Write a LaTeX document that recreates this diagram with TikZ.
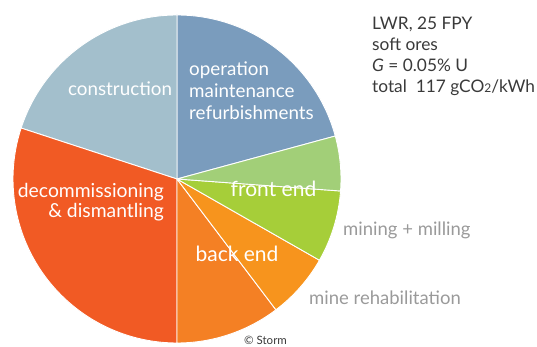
\documentclass[tikz,border=0pt]{standalone}
\usepackage{fontspec}
\setmainfont{Lato}
\definecolor{cConstr}{HTML}{A3BFCC}
\definecolor{cOper}{HTML}{7A9CBD}
\definecolor{cFront}{HTML}{A2CF78}
\definecolor{cMining}{HTML}{A6CE39}
\definecolor{cRehab}{HTML}{F7941D}
\definecolor{cBack}{HTML}{F48024}
\definecolor{cDecom}{HTML}{F15A24}
\definecolor{cGrayText}{HTML}{9A9A9A}
\definecolor{cDarkText}{HTML}{3A3A3A}
\tikzset{
  slice/.style={draw=white, line width=0.9pt, line join=round},
  inlabel/.style={text=white, font=\fontsize{18.8}{22}\selectfont, inner sep=0pt},
  biglabel/.style={text=white, font=\fontsize{21}{22}\selectfont, inner sep=0pt},
  outlabel/.style={text=cGrayText, font=\fontsize{18.5}{20}\selectfont, inner sep=0pt, anchor=west},
  infolabel/.style={text=cDarkText, font=\fontsize{17.3}{21}\selectfont, inner sep=0pt, anchor=west, align=left}
}
\begin{document}
\begin{tikzpicture}[x=1pt,y=1pt]
\useasboundingbox (0,0) rectangle (537,347);
\coordinate (C) at (177,168);
\def\R{164}
\fill[cOper, slice]   (C) -- ++(15.2:\R)  arc[start angle=15.2,  end angle=90,    radius=\R] -- cycle;
\fill[cConstr, slice] (C) -- ++(90:\R)    arc[start angle=90,    end angle=161.9, radius=\R] -- cycle;
\fill[cDecom, slice]  (C) -- ++(161.9:\R) arc[start angle=161.9, end angle=270,   radius=\R] -- cycle;
\fill[cBack, slice]   (C) -- ++(270:\R)   arc[start angle=270,   end angle=307.1, radius=\R] -- cycle;
\fill[cRehab, slice]  (C) -- ++(307.1:\R) arc[start angle=307.1, end angle=330.3, radius=\R] -- cycle;
\fill[cMining, slice] (C) -- ++(330.3:\R) arc[start angle=330.3, end angle=355.8, radius=\R] -- cycle;
\fill[cFront, slice]  (C) -- ++(355.8:\R) arc[start angle=355.8, end angle=375.2, radius=\R] -- cycle;

\node[inlabel] (constr) at (120,258) {construction};
\node[inlabel, anchor=west, align=left] (oper) at (189,256) {operation\\maintenance\\refurbishments};
\node[biglabel] (front) at (273.5,158) {front end};
\node[biglabel] (back) at (237,93) {back end};
\node[inlabel, anchor=east, align=right, font=\fontsize{19.3}{20}\selectfont] (decom) at (164,145) {decommissioning\\\&~dismantling};
\node[outlabel] (mining) at (343,117) {mining + milling};
\node[outlabel] (rehab) at (309,49) {mine rehabilitation};
\node[text=cDarkText, font=\fontsize{11.5}{12}\selectfont, inner sep=0pt, anchor=base] (storm) at (265.5,2) {© Storm};
\node[infolabel] (info) at (372,290.5) {LWR, 25 FPY\\soft ores\\\textit{G} = 0.05\% U\\total~~117 gCO{\fontsize{12}{12}\selectfont 2}/kWh};
\end{tikzpicture}
\end{document}
